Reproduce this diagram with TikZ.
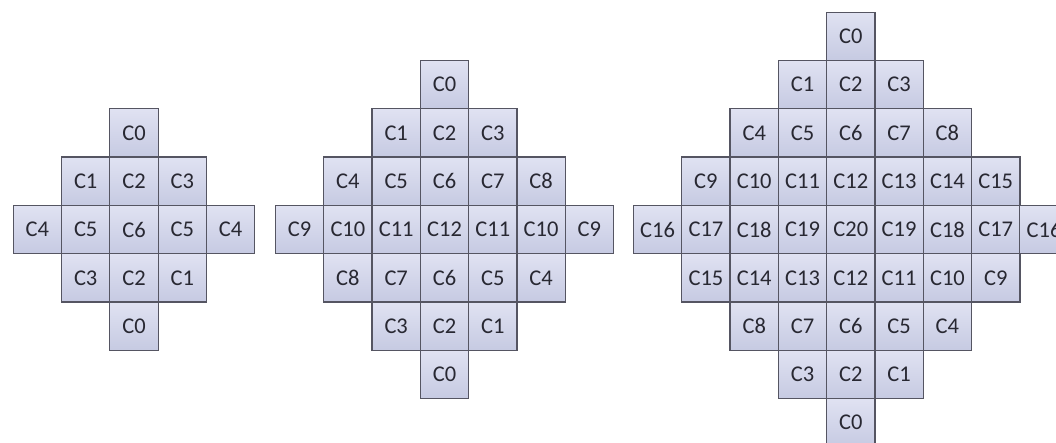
\documentclass[tikz,border=0pt]{standalone}
\usepackage{fontspec}
\setmainfont{Carlito}
\definecolor{cellbd}{RGB}{85,85,98}
\definecolor{celltop}{RGB}{224,226,242}
\definecolor{cellbot}{RGB}{198,202,226}
\definecolor{celltxt}{RGB}{40,40,50}
\tikzset{
  cell/.style={draw=cellbd,line width=0.9pt,top color=celltop,bottom color=cellbot,
    minimum width=1.2075cm,minimum height=1.2075cm,inner sep=0pt,text=celltxt,
    font=\fontsize{16}{19}\selectfont},
}
\begin{document}
\begin{tikzpicture}[x=0.025cm,y=-0.025cm]
  \useasboundingbox (0,0) rectangle (1056,442);
  % three diamonds: half size / centre column x / name
  \foreach \n/\cx/\dg in {2/134/a,3/444.5/b,4/850.8/c}{
    \pgfmathtruncatemacro\m{2*\n}
    \foreach \r in {0,...,\m}{
      \pgfmathtruncatemacro\w{\n-abs(\r-\n)}
      \pgfmathtruncatemacro\wm{-\w}
      \foreach \c in {\wm,...,\w}{
        \pgfmathtruncatemacro\k{\r<\n ? \r*\r+\r+\c : (\r==\n ? \n*\n+\n-abs(\c) : (\m-\r)*(\m-\r)+(\m-\r)-\c)}
        \node[cell] (\dg-\r-\c) at ({\cx+48.3*\c},{229.5+48.3*(\r-\n)}) {C\k};
      }
    }
  }
\end{tikzpicture}
\end{document}
